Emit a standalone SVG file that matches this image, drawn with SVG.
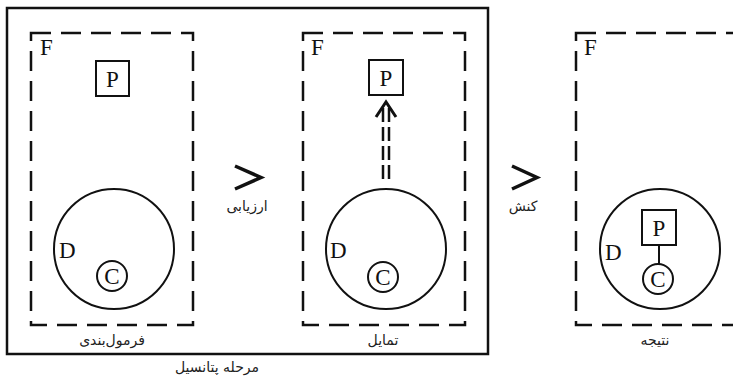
<svg xmlns="http://www.w3.org/2000/svg" width="733" height="379" viewBox="0 0 733 379">
<style>
.frame{fill:none;stroke:#111;stroke-width:2.5;stroke-dasharray:20 10}
.ln{fill:none;stroke:#111;stroke-width:2}
.box{fill:#fff;stroke:#111;stroke-width:2}
.let{font-family:"Liberation Serif",serif;font-size:23px;fill:#111}
.fa{font-family:"DejaVu Sans","Noto Sans",sans-serif;font-size:14px;fill:#222;text-anchor:middle;direction:rtl}
.chev{fill:none;stroke:#111;stroke-width:3.5;stroke-linejoin:miter}
</style>
<rect id="stage" x="7" y="8" width="481" height="346" fill="none" stroke="#111" stroke-width="2.5"/>
<text class="fa" x="217" y="372" font-size="15">مرحله پتانسیل</text>
<g id="panel1">
<rect class="frame" x="31" y="33" width="162" height="292"/>
<text class="let" x="40" y="55">F</text>
<rect class="box" x="96" y="61" width="33" height="35"/>
<text class="let" x="112.5" y="87" text-anchor="middle">P</text>
<circle class="ln" cx="114" cy="249" r="60"/>
<text class="let" x="59" y="258">D</text>
<circle class="ln" cx="112" cy="276" r="15"/>
<text class="let" x="112" y="284" text-anchor="middle" font-size="21">C</text>
<text class="fa" x="112" y="345">فرمول‌بندی</text>
</g>
<g id="panel2">
<rect class="frame" x="303" y="33" width="162" height="292"/>
<text class="let" x="311" y="55">F</text>
<rect class="box" x="369" y="60" width="34" height="35"/>
<text class="let" x="386" y="86" text-anchor="middle">P</text>
<circle class="ln" cx="386" cy="249" r="60"/>
<text class="let" x="330" y="258">D</text>
<circle class="ln" cx="383" cy="277" r="15"/>
<text class="let" x="383" y="285" text-anchor="middle" font-size="21">C</text>
<text class="fa" x="383" y="345">تمایل</text>
</g>
<g id="panel3">
<rect class="frame" x="576" y="33" width="162" height="292"/>
<text class="let" x="584" y="55">F</text>
<circle class="ln" cx="660" cy="249" r="60"/>
<rect class="box" x="642" y="210" width="34" height="35"/>
<text class="let" x="659" y="236" text-anchor="middle">P</text>
<circle class="ln" cx="658" cy="279" r="15"/>
<text class="let" x="658" y="287" text-anchor="middle" font-size="21">C</text>
<text class="let" x="605" y="260">D</text>
<text class="fa" x="655" y="345">نتیجه</text>
</g>
<g id="connectors">
<line class="ln" x1="659" y1="245" x2="659" y2="264"/>
<polyline class="chev" points="235,166 261,177.5 235,189"/>
<text class="fa" x="247" y="211">ارزیابی</text>
<polyline class="chev" points="512,166 537,177.5 512,189"/>
<text class="fa" x="523" y="211">کنش</text>
<g stroke="#111" stroke-width="2.5" fill="none">
<line x1="383" y1="108" x2="383" y2="180" stroke-dasharray="14 5"/>
<line x1="389" y1="108" x2="389" y2="180" stroke-dasharray="14 5"/>
<polyline points="376,117 386,102 396,117" stroke-width="3"/>
</g>
</g>
</svg>
